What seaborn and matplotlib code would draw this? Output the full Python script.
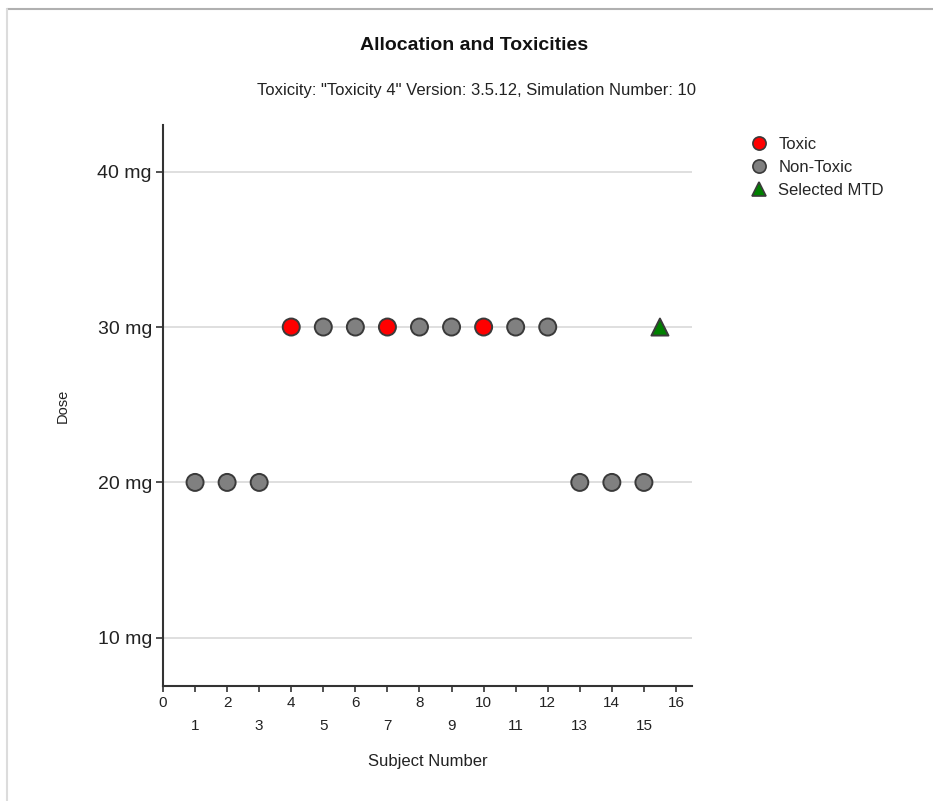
import numpy as np
import pandas as pd
import matplotlib
matplotlib.use('Agg')
import matplotlib.pyplot as plt
from matplotlib.lines import Line2D
import seaborn as sns

# Data
subjects = [1, 2, 3, 4, 5, 6, 7, 8, 9, 10, 11, 12, 13, 14, 15]
doses = [20, 20, 20, 30, 30, 30, 30, 30, 30, 30, 30, 30, 20, 20, 20]
status = ['Non-Toxic', 'Non-Toxic', 'Non-Toxic', 'Toxic', 'Non-Toxic', 'Non-Toxic',
          'Toxic', 'Non-Toxic', 'Non-Toxic', 'Toxic', 'Non-Toxic', 'Non-Toxic',
          'Non-Toxic', 'Non-Toxic', 'Non-Toxic']
mtd_x = [15.5]
mtd_dose = [30]
dose_levels = [10, 20, 30, 40]
dose_labels = ['10 mg', '20 mg', '30 mg', '40 mg']

sns.set_theme(style='white')
plt.rcParams['font.family'] = ['Liberation Sans', 'DejaVu Sans']

data = pd.DataFrame({'Subject': subjects + mtd_x,
                     'Dose': doses + mtd_dose,
                     'Status': status + ['Selected MTD'] * len(mtd_x)})

colors = {'Toxic': '#ff0000', 'Non-Toxic': '#808080', 'Selected MTD': '#008000'}
markers = {'Toxic': 'o', 'Non-Toxic': 'o', 'Selected MTD': '^'}

fig = plt.figure(figsize=(9.33, 8.01), dpi=100)
ax = fig.add_axes([0.1747, 0.1436, 0.5670, 0.7003])

# horizontal gridlines
ax.set_yticks(dose_levels)
ax.yaxis.grid(True, color='#d9d9d9', linewidth=1.2)
ax.xaxis.grid(False)
ax.set_axisbelow(True)

sns.scatterplot(data=data, x='Subject', y='Dose', hue='Status', style='Status',
                palette=colors, markers=markers, s=150, edgecolor='#3a3a3a',
                linewidth=1.4, legend=False, ax=ax, zorder=3)

ax.set_xlim(0, 16.5)
ax.set_ylim(6.9, 43.0)

# x ticks: even numbers on top row, odd numbers on lower row
ax.set_xticks(np.arange(0, 17, 2))
ax.set_xticklabels([str(v) for v in range(0, 17, 2)])
ax.set_xticks(np.arange(1, 16, 2), minor=True)
ax.set_xticklabels([str(v) for v in range(1, 16, 2)], minor=True)
ax.tick_params(axis='x', which='major', bottom=True, length=4, width=1.2,
               color='#333333', pad=3, labelsize=11, labelcolor='#222222')
ax.tick_params(axis='x', which='minor', bottom=True, length=4, width=1.2,
               color='#333333', pad=20, labelsize=11, labelcolor='#222222')

ax.set_yticklabels(dose_labels)
ax.tick_params(axis='y', left=True, length=5, width=1.2, color='#333333',
               pad=3, labelsize=14, labelcolor='#222222')

for side in ['top', 'right']:
    ax.spines[side].set_visible(False)
for side in ['left', 'bottom']:
    ax.spines[side].set_color('#333333')
    ax.spines[side].set_linewidth(1.5)

ax.set_xlabel('Subject Number', fontsize=12, color='#222222', labelpad=15)
ax.set_ylabel('Dose', fontsize=10.5, color='#222222', labelpad=20)

fig.text(474 / 933, 1 - 46 / 801, 'Allocation and Toxicities', ha='center', va='center',
         fontsize=14, fontweight='bold', color='#111111')
fig.text(476 / 933, 1 - 91 / 801, 'Toxicity: "Toxicity 4" Version: 3.5.12, Simulation Number: 10',
         ha='center', va='center', fontsize=12, color='#222222')

handles = [Line2D([], [], linestyle='', marker=markers[k], markersize=9.5,
                  markerfacecolor=colors[k], markeredgecolor='#3a3a3a',
                  markeredgewidth=1.2, label=k)
           for k in ['Toxic', 'Non-Toxic', 'Selected MTD']]
fig.legend(handles=handles, loc='upper left', bbox_to_anchor=(740 / 933, 1 - 130 / 801),
           frameon=False, fontsize=12, handletextpad=0.4, labelspacing=0.5,
           borderaxespad=0, handlelength=1.5)

# light frame around the picture
fig.add_artist(Line2D([7 / 933, 1], [1 - 8.5 / 801, 1 - 8.5 / 801], color='#b0b0b0', linewidth=1.5))
fig.add_artist(Line2D([7.5 / 933, 7.5 / 933], [0, 1 - 8.5 / 801], color='#dcdcdc', linewidth=1.5))

fig.savefig('out.png', dpi=100)
